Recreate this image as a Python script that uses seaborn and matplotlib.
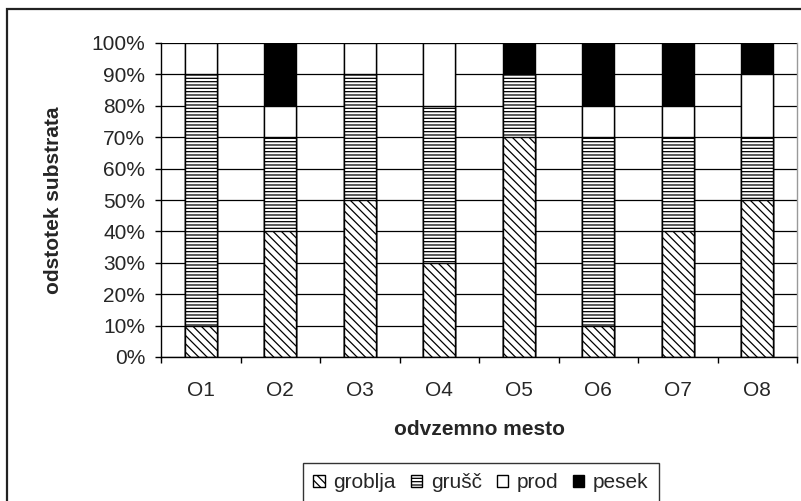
import numpy as np
import pandas as pd
import matplotlib
matplotlib.use("Agg")
import matplotlib.pyplot as plt
import seaborn as sns
from matplotlib.patches import Patch, Rectangle

# =========================
# DATA
# =========================
mesta = ["O1", "O2", "O3", "O4", "O5", "O6", "O7", "O8"]
groblja = [10, 40, 50, 30, 70, 10, 40, 50]
grusc = [80, 30, 40, 50, 20, 60, 30, 20]
prod = [10, 10, 10, 20, 0, 10, 10, 20]
pesek = [0, 20, 0, 0, 10, 20, 20, 10]

sns.set_style("white")
plt.rcParams["font.family"] = ["Liberation Sans", "DejaVu Sans"]
plt.rcParams["font.size"] = 15
plt.rcParams["hatch.linewidth"] = 0.9
plt.rcParams["hatch.color"] = "black"

df = pd.DataFrame({"mesto": mesta, "groblja": groblja, "grušč": grusc,
                   "prod": prod, "pesek": pesek})
layers = ["groblja", "grušč", "prod", "pesek"]
cum = df[layers].cumsum(axis=1)

styles = {
    "groblja": dict(color="white", hatch="\\\\\\\\"),
    "grušč": dict(color="white", hatch="-----"),
    "prod": dict(color="white", hatch=""),
    "pesek": dict(color="black", hatch=""),
}

fig = plt.figure(figsize=(8.01, 5.01), dpi=100)
ax = fig.add_axes([161 / 801, 1 - 357 / 501, 636 / 801, 314 / 501])

# outer frame (only top and left edges fall inside the picture)
fig.patches.append(Rectangle((7 / 801, -0.1), 1.2, 1.1 - 9 / 501,
                             transform=fig.transFigure, fill=False,
                             edgecolor="#222222", linewidth=1.6, zorder=10))

ax.set_axisbelow(True)
ax.yaxis.grid(True, color="black", linewidth=0.9)

# draw cumulative totals from the top layer down, each covering the one before
for name in reversed(layers):
    sns.barplot(x=df["mesto"], y=cum[name], ax=ax, width=0.40,
                color=styles[name]["color"], edgecolor="black", linewidth=1.0,
                hatch=styles[name]["hatch"], saturation=1)

ax.set_ylim(0, 100)
ax.set_xlim(-0.5, len(mesta) - 0.5)
ax.set_yticks(np.arange(0, 101, 10))
ax.set_yticklabels([f"{v}%" for v in range(0, 101, 10)], fontsize=15)
ax.tick_params(axis="x", labelsize=15, length=0, pad=17)
ax.set_xticks(np.arange(-0.5, len(mesta), 1), minor=True)
ax.tick_params(axis="x", which="minor", length=4.5, width=1, color="black",
               direction="out", bottom=True)
ax.tick_params(axis="y", length=4.5, width=1, color="black", direction="out",
               left=True, pad=7)

ax.spines["top"].set_visible(False)
ax.spines["right"].set_color("#999999")
ax.spines["right"].set_linewidth(1.0)
for s in ["left", "bottom"]:
    ax.spines[s].set_color("black")
    ax.spines[s].set_linewidth(1.0)

ax.set_xlabel("odvzemno mesto", fontsize=15, fontweight="bold", labelpad=15)
ax.set_ylabel("odstotek substrata", fontsize=15, fontweight="bold", labelpad=20)

handles = [Patch(facecolor=styles[n]["color"], edgecolor="black",
                 hatch=styles[n]["hatch"], label=n) for n in layers]
leg = fig.legend(handles=handles, loc="upper left",
                 bbox_to_anchor=(303 / 801, 1 - 463 / 501), borderaxespad=0,
                 ncol=4, frameon=True, fancybox=False, fontsize=15,
                 handlelength=0.55, handleheight=0.55, handletextpad=0.42,
                 columnspacing=0.7, borderpad=0.5, edgecolor="black")
leg.get_frame().set_linewidth(1.0)

plt.savefig("out.png", dpi=100)
plt.close()
